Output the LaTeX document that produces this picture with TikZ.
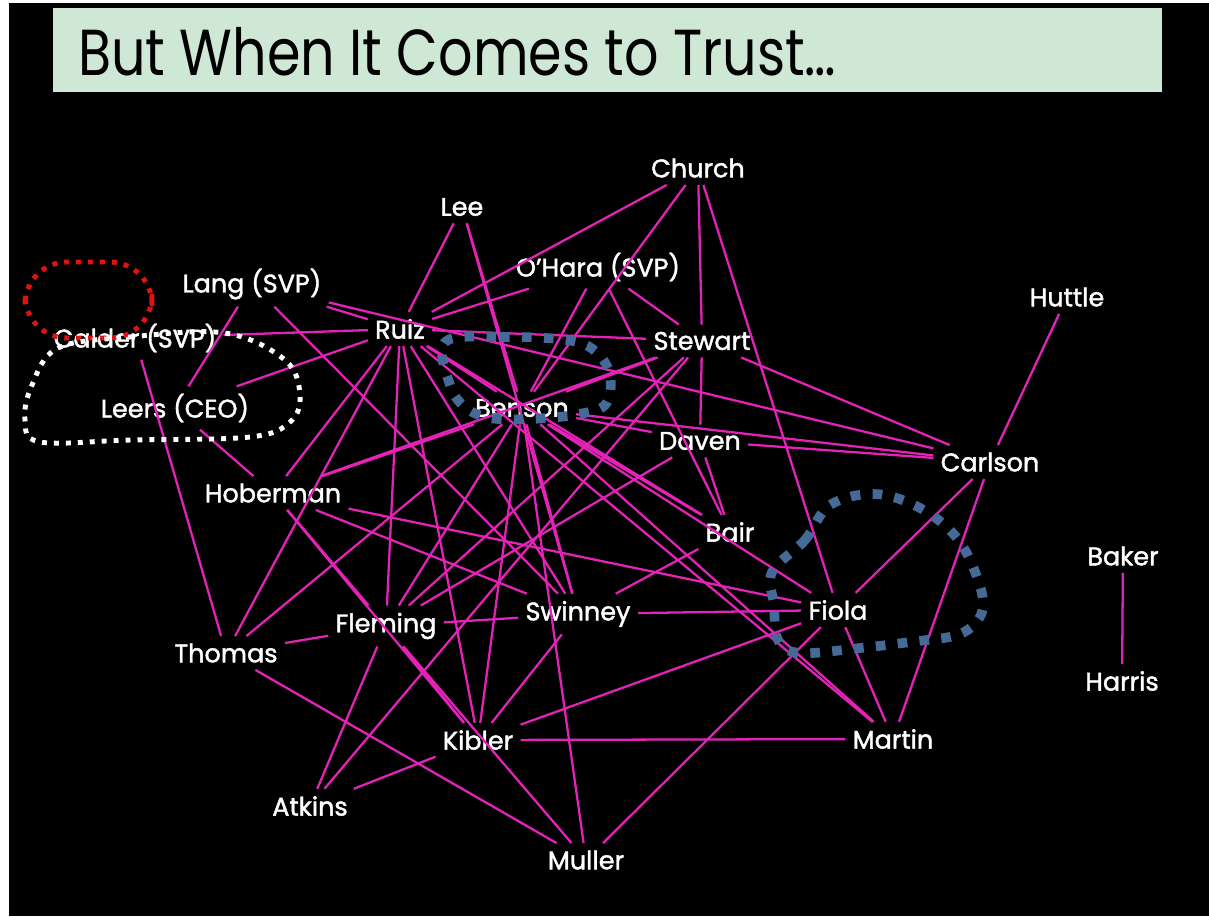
\documentclass[tikz,border=0pt]{standalone}
\usepackage{fontspec}
\setmainfont{Poppins}
\newfontfamily\namefont{Poppins}[FakeBold=1.6]
\definecolor{trust}{RGB}{228,34,184}
\definecolor{banner}{RGB}{207,231,213}
\definecolor{loopblue}{RGB}{70,106,152}
\definecolor{loopred}{RGB}{226,18,18}
\begin{document}
\begin{tikzpicture}[x=0.02cm,y=-0.02cm, line join=round,
	person/.style={text=white, inner sep=4pt, font=\namefont\fontsize{14.5}{17}\selectfont},
	link/.style={trust, line width=1.3pt},
	ring/.style={line width=2.8pt, dash pattern=on 2.8pt off 4pt},
	bigring/.style={loopblue, line width=5.5pt, dash pattern=on 5.5pt off 7pt}]
	\useasboundingbox (0,0) rectangle (1209,916);
	\fill[white] (0,0) rectangle (1209,916);
	\fill[black] (9,3) rectangle (1209,916);
	% title bar
	\fill[banner] (53,8) rectangle (1162,92);
	\node[anchor=base west, xscale=0.83, inner sep=0pt, font=\fontsize{37}{40}\selectfont] (title) at (78,75) {But When It Comes to Trust\dots};
	% people
	\foreach \n/\x/\y/\t in {Church/698/168/Church, Lee/462/207/Lee, OHara/598/267/O’Hara (SVP),
		Lang/252/284/Lang (SVP), Huttle/1067/297/Huttle, Calder/135/338/Calder (SVP),
		Ruiz/400/329/Ruiz, Stewart/702/341/Stewart, Leers/175/408/Leers (CEO),
		Benson/522/408/Benson, Daven/700/441/Daven, Carlson/990/462/Carlson,
		Hoberman/273/493/Hoberman, Bair/730/532/Bair, Baker/1123/556/Baker,
		Fiola/838/610/Fiola, Swinney/578/614/Swinney, Fleming/386/626/Fleming,
		Thomas/226/653/Thomas, Harris/1122/681/Harris, Kibler/478/740/Kibler,
		Martin/893/739/Martin, Atkins/310/806/Atkins, Muller/586/860/Muller}
		\node[person] (\n) at (\x,\y) {\t};
	% trust ties
	\foreach \a/\b in {Church/Ruiz, Church/Benson, Church/Stewart, Church/Fiola,
		Lee/Ruiz, Lee/Benson, Lee/Swinney, OHara/Ruiz, OHara/Benson, OHara/Stewart, OHara/Bair,
		Lang/Ruiz, Lang/Leers, Lang/Swinney, Lang/Carlson, Calder/Ruiz, Calder/Thomas,
		Leers/Ruiz, Leers/Hoberman, Ruiz/Stewart, Ruiz/Benson, Ruiz/Hoberman,
		Ruiz/Thomas, Ruiz/Fleming, Ruiz/Kibler, Ruiz/Swinney, Ruiz/Bair, Ruiz/Martin,
		Stewart/Daven, Stewart/Carlson, Stewart/Benson, Stewart/Hoberman, Stewart/Fleming,
		Daven/Bair, Daven/Carlson, Daven/Benson, Daven/Fleming,
		Benson/Carlson, Benson/Hoberman, Benson/Thomas, Benson/Kibler, Benson/Muller,
		Benson/Swinney, Benson/Bair, Benson/Fiola, Benson/Martin, Benson/Fleming,
		Huttle/Carlson, Carlson/Martin, Carlson/Fiola, Baker/Harris,
		Hoberman/Fiola, Hoberman/Swinney, Hoberman/Kibler, Hoberman/Fleming,
		Thomas/Fleming, Thomas/Muller, Fleming/Swinney, Fleming/Atkins, Fleming/Kibler,
		Fleming/Muller, Atkins/Kibler, Atkins/Stewart, Kibler/Martin, Kibler/Fiola,
		Kibler/Swinney, Swinney/Fiola, Swinney/Bair, Muller/Fiola, Fiola/Martin}
		\draw[link] (\a) -- (\b);
	% dotted loops
	\draw[ring, loopred, rounded corners=24] (25,262) rectangle (152,338);
	\draw[ring, white] plot[smooth cycle, tension=0.6] coordinates {(58,348) (130,337) (225,333) (285,360)
		(300,395) (290,422) (250,437) (130,440) (40,442) (25,420) (32,385)};
	\draw[bigring] plot[smooth cycle, tension=0.6] coordinates {(445,342) (500,337) (567,340) (595,351) (610,375)
		(605,405) (573,415) (530,419) (490,418) (465,407) (450,385)};
	\draw[bigring] plot[smooth cycle, tension=0.6] coordinates {(772,572) (805,540) (830,505) (875,494)
		(920,508) (957,538) (978,580) (982,612) (960,634) (910,642) (860,648) (800,653) (778,640) (774,605)};
\end{tikzpicture}
\end{document}
